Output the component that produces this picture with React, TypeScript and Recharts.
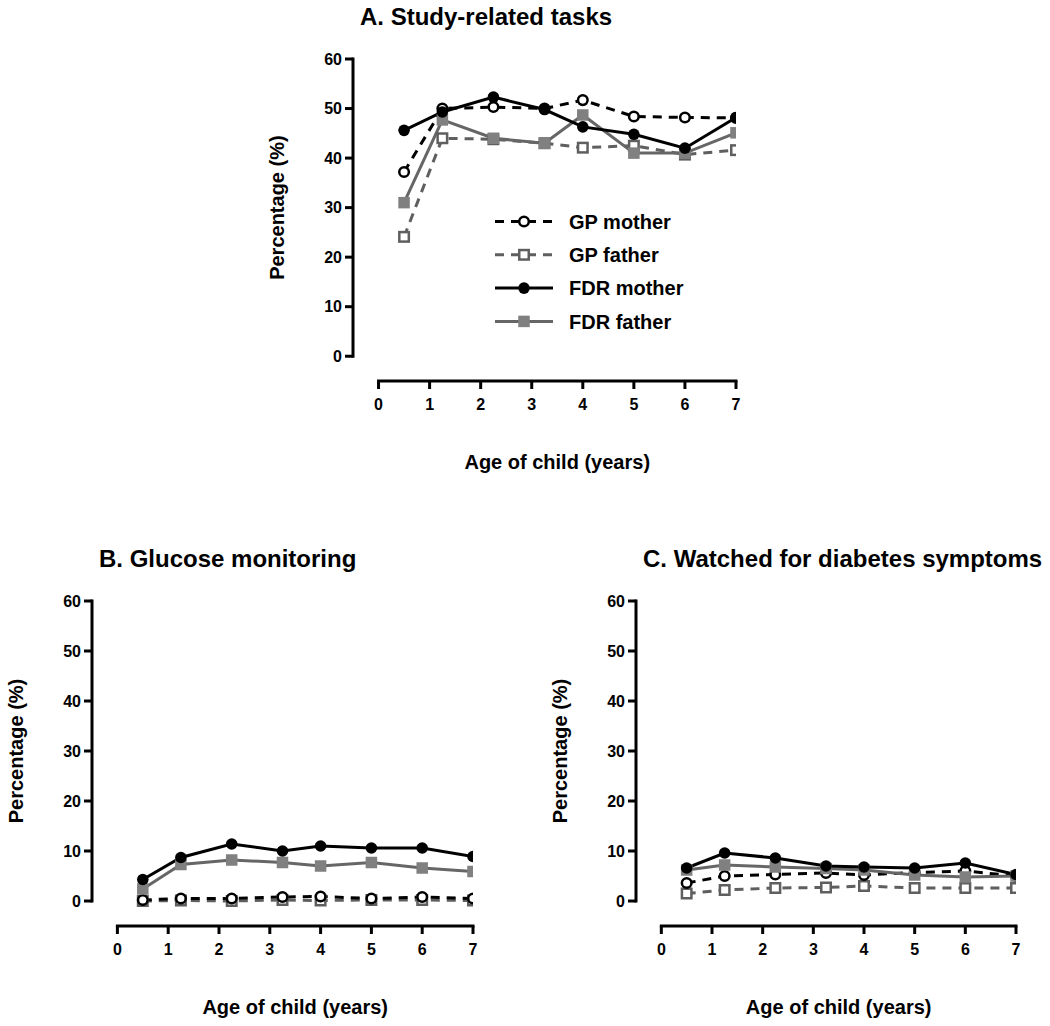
import { LineChart, Line, XAxis, YAxis, ReferenceLine, Legend, Label } from 'recharts';

const FONT = '"Liberation Sans", Arial, Helvetica, sans-serif';

// ages (years) at which parents were asked
const ages = [0.5, 1.25, 2.25, 3.25, 4, 5, 6, 7];
const xTicks = [0, 1, 2, 3, 4, 5, 6, 7];
const yTicks = [0, 10, 20, 30, 40, 50, 60];

// A. Study-related tasks
const studyGpMother = [37.2, 50, 50.3, 50, 51.7, 48.4, 48.2, 48.1];
const studyGpFather = [24.1, 44, 43.8, 43, 42.1, 42.5, 40.7, 41.6];
const studyFdrMother = [45.6, 49.3, 52.3, 49.8, 46.3, 44.8, 42, 48.2];
const studyFdrFather = [31, 47.7, 44, 43, 48.7, 41, 41, 45.1];

// B. Glucose monitoring
const glucoseGpMother = [0.2, 0.5, 0.5, 0.8, 0.9, 0.5, 0.8, 0.5];
const glucoseGpFather = [0, 0.1, 0, 0.2, 0.1, 0.2, 0.2, 0.1];
const glucoseFdrMother = [4.3, 8.7, 11.4, 10, 11, 10.6, 10.6, 8.9];
const glucoseFdrFather = [2.4, 7.3, 8.2, 7.7, 7, 7.7, 6.6, 5.9];

// C. Watched for diabetes symptoms
const watchGpMother = [3.6, 5, 5.3, 5.6, 5.2, 5.7, 6, 5];
const watchGpFather = [1.5, 2.2, 2.6, 2.7, 3, 2.6, 2.6, 2.6];
const watchFdrMother = [6.6, 9.6, 8.6, 7, 6.8, 6.6, 7.6, 5.3];
const watchFdrFather = [6.2, 7.2, 6.8, 6.5, 6.2, 5.2, 4.8, 5];

type Shape = 'circle' | 'square';
interface SeriesStyle {
  key: string;
  name: string;
  color: string;
  fill: string;
  dash?: string;
  shape: Shape;
  hollow: boolean;
}

// drawing order: last one ends up on top
const SERIES: SeriesStyle[] = [
  { key: 'gpFather', name: 'GP father', color: '#5f5f5f', fill: '#fff', dash: '9 7', shape: 'square', hollow: true },
  { key: 'gpMother', name: 'GP mother', color: '#000', fill: '#fff', dash: '9 7', shape: 'circle', hollow: true },
  { key: 'fdrFather', name: 'FDR father', color: '#666', fill: '#808080', shape: 'square', hollow: false },
  { key: 'fdrMother', name: 'FDR mother', color: '#000', fill: '#000', shape: 'circle', hollow: false },
];
const LEGEND_ORDER = ['gpMother', 'gpFather', 'fdrMother', 'fdrFather'];

const X_MIN = -0.5;
const Y_MIN = -5;

function buildRows(gpMother: number[], gpFather: number[], fdrMother: number[], fdrFather: number[]) {
  return ages.map((age, i) => ({
    age,
    gpMother: gpMother[i],
    gpFather: gpFather[i],
    fdrMother: fdrMother[i],
    fdrFather: fdrFather[i],
  }));
}

const studyRows = buildRows(studyGpMother, studyGpFather, studyFdrMother, studyFdrFather);
const glucoseRows = buildRows(glucoseGpMother, glucoseGpFather, glucoseFdrMother, glucoseFdrFather);
const watchRows = buildRows(watchGpMother, watchGpFather, watchFdrMother, watchFdrFather);

function Marker({ cx, cy, s }: { cx?: number; cy?: number; s: SeriesStyle }) {
  if (cx == null || cy == null) return null;
  if (s.shape === 'circle') {
    return s.hollow
      ? <circle cx={cx} cy={cy} r={4.8} fill="#fff" stroke={s.color} strokeWidth={2.5} />
      : <circle cx={cx} cy={cy} r={5.8} fill={s.fill} />;
  }
  const size = s.hollow ? 9.5 : 11.5;
  return (
    <rect
      x={cx - size / 2}
      y={cy - size / 2}
      width={size}
      height={size}
      fill={s.fill}
      stroke={s.hollow ? s.color : 'none'}
      strokeWidth={s.hollow ? 2.5 : 0}
    />
  );
}

function LegendBox() {
  return (
    <svg width={220} height={136}>
      {LEGEND_ORDER.map((k, i) => {
        const s = SERIES.find(d => d.key === k)!;
        const y = 16.5 + i * 33.3;
        return (
          <g key={k}>
            <line x1={0} y1={y} x2={58} y2={y} stroke={s.color} strokeWidth={3} strokeDasharray={s.dash} />
            <Marker cx={29} cy={y} s={s} />
            <text x={74} y={y} dy="0.36em" fontSize={20} fontWeight={700} fontFamily={FONT} fill="#000">
              {s.name}
            </text>
          </g>
        );
      })}
    </svg>
  );
}

interface PanelProps {
  title: string;
  rows: ReturnType<typeof buildRows>;
  plotLeft: number;
  plotTop: number;
  plotW: number;
  plotH: number;
  legend?: { left: number; top: number };
}

const Y_AXIS_W = 120;
const TOP = 20;
const RIGHT = 30;
const X_AXIS_H = 110;

function Panel({ title, rows, plotLeft, plotTop, plotW, plotH, legend }: PanelProps) {
  const left = plotLeft - Y_AXIS_W;
  const top = plotTop - TOP;
  const width = Y_AXIS_W + plotW + RIGHT;
  const height = TOP + plotH + X_AXIS_H;
  const tickStyle = { fill: '#000', fontSize: 16, fontWeight: 700, fontFamily: FONT };
  const tickLine = { stroke: '#000', strokeWidth: 3 };

  const xLabelX = Y_AXIS_W + ((3.5 - X_MIN) / (7 - X_MIN)) * plotW;
  const xLabelY = TOP + plotH + 81;
  const yLabelX = Y_AXIS_W - 76;
  const yLabelY = TOP + ((60 / (60 - Y_MIN)) * plotH) / 2;

  return (
    <>
      <div
        style={{
          position: 'absolute',
          left: plotLeft + 7,
          top: plotTop - 54,
          fontSize: 24,
          lineHeight: '24px',
          fontWeight: 700,
          fontFamily: FONT,
          whiteSpace: 'nowrap',
        }}
      >
        {title}
      </div>
      <div style={{ position: 'absolute', left, top }}>
        <LineChart width={width} height={height} data={rows} margin={{ top: TOP, right: RIGHT, left: 0, bottom: 0 }}>
          <XAxis
            type="number"
            dataKey="age"
            domain={[X_MIN, 7]}
            ticks={xTicks}
            interval={0}
            allowDataOverflow
            axisLine={false}
            tickLine={tickLine}
            tickSize={8}
            tickMargin={10}
            height={X_AXIS_H}
            tick={tickStyle}
          >
            <Label
              content={() => (
                <text x={xLabelX} y={xLabelY} dy="0.36em" textAnchor="middle" fontSize={20} fontWeight={700} fontFamily={FONT} fill="#000">
                  Age of child (years)
                </text>
              )}
            />
          </XAxis>
          <YAxis
            type="number"
            domain={[Y_MIN, 60]}
            ticks={yTicks}
            interval={0}
            allowDataOverflow
            axisLine={false}
            tickLine={tickLine}
            tickSize={8}
            tickMargin={3}
            width={Y_AXIS_W}
            tick={tickStyle}
          >
            <Label
              content={() => (
                <text
                  x={yLabelX}
                  y={yLabelY}
                  dy="0.36em"
                  textAnchor="middle"
                  transform={`rotate(-90 ${yLabelX} ${yLabelY})`}
                  fontSize={20}
                  fontWeight={700}
                  fontFamily={FONT}
                  fill="#000"
                >
                  Percentage (%)
                </text>
              )}
            />
          </YAxis>
          {/* offset axis lines, GraphPad style */}
          <ReferenceLine segment={[{ x: X_MIN, y: 0 }, { x: X_MIN, y: 60 }]} stroke="#000" strokeWidth={3} strokeLinecap="square" ifOverflow="visible" />
          <ReferenceLine segment={[{ x: 0, y: Y_MIN }, { x: 7, y: Y_MIN }]} stroke="#000" strokeWidth={3} strokeLinecap="square" ifOverflow="visible" />
          {SERIES.map(s => (
            <Line
              key={s.key}
              dataKey={s.key}
              name={s.name}
              type="linear"
              stroke={s.color}
              strokeWidth={3}
              strokeDasharray={s.dash}
              isAnimationActive={false}
              dot={(p: any) => <Marker key={`${s.key}-${p.index}`} cx={p.cx} cy={p.cy} s={s} />}
              activeDot={false}
            />
          ))}
          {legend && (
            <Legend
              layout="vertical"
              align="center"
              verticalAlign="middle"
              wrapperStyle={{ left: legend.left - left, top: legend.top - top, width: 220, height: 136 }}
              content={() => <LegendBox />}
            />
          )}
        </LineChart>
      </div>
    </>
  );
}

export default function App() {
  return (
    <div style={{ position: 'absolute', left: 0, top: 0, width: 1050, height: 1026, background: '#fff' }}>
      <Panel
        title="A. Study-related tasks"
        rows={studyRows}
        plotLeft={353}
        plotTop={59}
        plotW={383}
        plotH={322}
        legend={{ left: 495, top: 205 }}
      />
      <Panel title="B. Glucose monitoring" rows={glucoseRows} plotLeft={92} plotTop={601} plotW={381} plotH={325} />
      <Panel title="C. Watched for diabetes symptoms" rows={watchRows} plotLeft={636} plotTop={601} plotW={380} plotH={325} />
    </div>
  );
}
